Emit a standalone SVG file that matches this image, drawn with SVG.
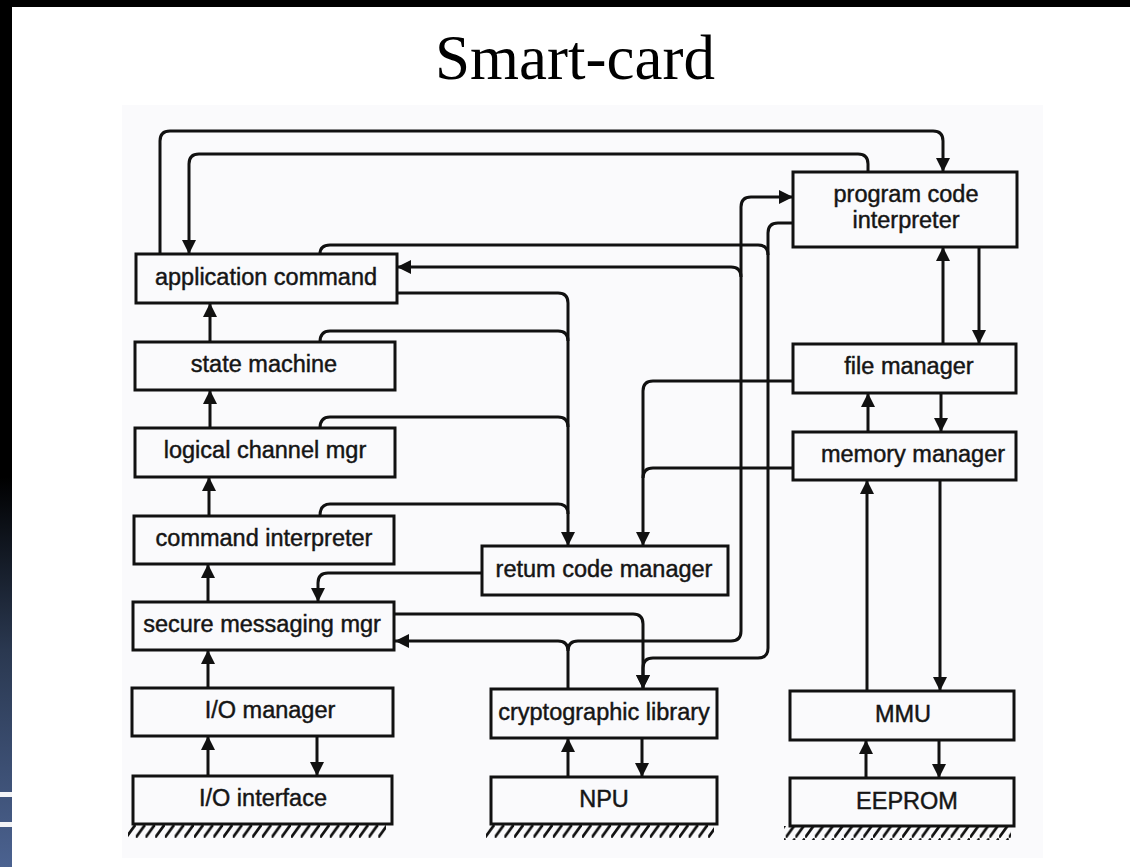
<svg xmlns="http://www.w3.org/2000/svg" width="1130" height="867" viewBox="0 0 1130 867">
  <defs>
    <linearGradient id="sideband" x1="0" y1="0" x2="0" y2="1">
      <stop offset="0" stop-color="#000"/>
      <stop offset="0.55" stop-color="#000"/>
      <stop offset="0.75" stop-color="#2a3850"/>
      <stop offset="1" stop-color="#4b6290"/>
    </linearGradient>
    <marker id="arrow" markerUnits="userSpaceOnUse" markerWidth="14" markerHeight="14" viewBox="0 0 14 14" refX="14" refY="7" orient="auto">
      <path d="M0,0 L14,7 L0,14 z" fill="#111"/>
    </marker>
    <pattern id="hatch" patternUnits="userSpaceOnUse" width="9.7" height="14" x="0" y="824">
      <path d="M0,13.5 L9.5,0.5" stroke="#111" stroke-width="2.8" fill="none"/>
    </pattern>
  </defs>
  <style>
    .box rect { fill: none; stroke: #111; stroke-width: 3; }
    .box text { font-family: "Liberation Sans", Arial, sans-serif; font-size: 23.5px; fill: #151515; stroke: #151515; stroke-width: 0.45; text-anchor: middle; }
    .links path { fill: none; stroke: #111; stroke-width: 3; }
    .links .arr { marker-end: url(#arrow); }
    .title { font-family: "Liberation Serif", "Times New Roman", serif; font-size: 63px; fill: #000; text-anchor: middle; }
  </style>

  <!-- page and frame -->
  <rect x="0" y="0" width="1130" height="867" fill="#fff"/>
  <rect x="0" y="0" width="1130" height="7" fill="#000"/>
  <rect x="0" y="0" width="12" height="867" fill="url(#sideband)"/>
  <rect x="0" y="792" width="12" height="5" fill="#f4f4f6"/>
  <rect x="0" y="822" width="12" height="5" fill="#f4f4f6"/>
  <rect x="122" y="105" width="921" height="753" fill="#fafafc"/>

  <text class="title" x="575" y="79">Smart-card</text>

  <!-- ground hatching under hardware blocks -->
  <g id="ground">
    <rect x="128" y="824" width="258" height="14" fill="url(#hatch)"/>
    <rect x="486" y="824" width="228" height="14" fill="url(#hatch)"/>
    <rect x="784" y="826" width="227" height="14" fill="url(#hatch)"/>
  </g>

  <g class="links" id="connectors">
    <!-- loops across the top -->
    <path class="arr" d="M160,254 V141 Q160,131 170,131 H933 Q943,131 943,141 V172"/>
    <path class="arr" d="M868,172 V164 Q868,154 858,154 H199 Q189,154 189,164 V254"/>
    <!-- bus into cryptographic library -->
    <path d="M320,254 Q320,245 330,245 H758 Q768,245 768,255"/>
    <path class="arr" d="M793,223 H778 Q768,223 768,233 V648 Q768,658 758,658 H653 Q643,658 643,668 V689"/>
    <path class="arr" d="M394,614 H633 Q643,614 643,624 V689"/>
    <!-- bus out of cryptographic library -->
    <path class="arr" d="M568,689 V651 Q568,641 558,641 H395"/>
    <path class="arr" d="M568,651 Q568,641 578,641 H731 Q741,641 741,631 V207 Q741,197 751,197 H793"/>
    <path class="arr" d="M741,277 Q741,267 731,267 H397"/>
    <!-- into return code manager -->
    <path class="arr" d="M397,293 H558 Q568,293 568,303 V546"/>
    <path d="M320,342 Q320,331 330,331 H558 Q568,331 568,341"/>
    <path d="M320,428 Q320,417 330,417 H558 Q568,417 568,427"/>
    <path d="M320,516 Q320,504 330,504 H558 Q568,504 568,514"/>
    <path class="arr" d="M793,381 H653 Q643,381 643,391 V546"/>
    <path d="M793,468 H653 Q643,468 643,478"/>
    <path class="arr" d="M482,573 H328 Q318,573 318,583 V602"/>
    <!-- left stack -->
    <path class="arr" d="M210,342 V303"/>
    <path class="arr" d="M210,428 V390"/>
    <path class="arr" d="M209,516 V477"/>
    <path class="arr" d="M208,602 V564"/>
    <path class="arr" d="M208,688 V650"/>
    <path class="arr" d="M208,776 V736"/>
    <path class="arr" d="M317,736 V776"/>
    <!-- right stack -->
    <path class="arr" d="M943,344 V247"/>
    <path class="arr" d="M979,247 V344"/>
    <path class="arr" d="M868,432 V393"/>
    <path class="arr" d="M941,393 V432"/>
    <path class="arr" d="M867,691 V480"/>
    <path class="arr" d="M940,480 V691"/>
    <path class="arr" d="M866,778 V740"/>
    <path class="arr" d="M939,740 V778"/>
    <!-- crypto / NPU -->
    <path class="arr" d="M568,777 V738"/>
    <path class="arr" d="M642,738 V777"/>
  </g>

  <g class="box" id="application-command"><rect x="136" y="254" width="261" height="49"/><text x="266" y="285">application command</text></g>
  <g class="box" id="state-machine"><rect x="135" y="342" width="260" height="48"/><text x="264" y="372">state machine</text></g>
  <g class="box" id="logical-channel-mgr"><rect x="135" y="428" width="260" height="49"/><text x="265" y="458">logical channel mgr</text></g>
  <g class="box" id="command-interpreter"><rect x="134" y="516" width="260" height="48"/><text x="264" y="546">command interpreter</text></g>
  <g class="box" id="secure-messaging-mgr"><rect x="133" y="602" width="261" height="48"/><text x="262" y="632">secure messaging mgr</text></g>
  <g class="box" id="io-manager"><rect x="132" y="688" width="261" height="48"/><text x="270" y="718">I/O manager</text></g>
  <g class="box" id="io-interface"><rect x="133" y="776" width="259" height="48"/><text x="263" y="806">I/O interface</text></g>
  <g class="box" id="program-code-interpreter"><rect x="793" y="172" width="224" height="75"/><text x="906" y="202">program code</text><text x="906" y="228">interpreter</text></g>
  <g class="box" id="file-manager"><rect x="793" y="344" width="223" height="49"/><text x="909" y="374">file manager</text></g>
  <g class="box" id="memory-manager"><rect x="793" y="432" width="223" height="48"/><text x="913" y="462">memory manager</text></g>
  <g class="box" id="return-code-manager"><rect x="482" y="546" width="246" height="49"/><text x="604" y="577">retum code manager</text></g>
  <g class="box" id="cryptographic-library"><rect x="491" y="689" width="226" height="49"/><text x="604" y="720">cryptographic library</text></g>
  <g class="box" id="npu"><rect x="491" y="777" width="226" height="47"/><text x="604" y="807">NPU</text></g>
  <g class="box" id="mmu"><rect x="790" y="691" width="224" height="49"/><text x="903" y="722">MMU</text></g>
  <g class="box" id="eeprom"><rect x="790" y="778" width="224" height="48"/><text x="907" y="809">EEPROM</text></g>
</svg>
